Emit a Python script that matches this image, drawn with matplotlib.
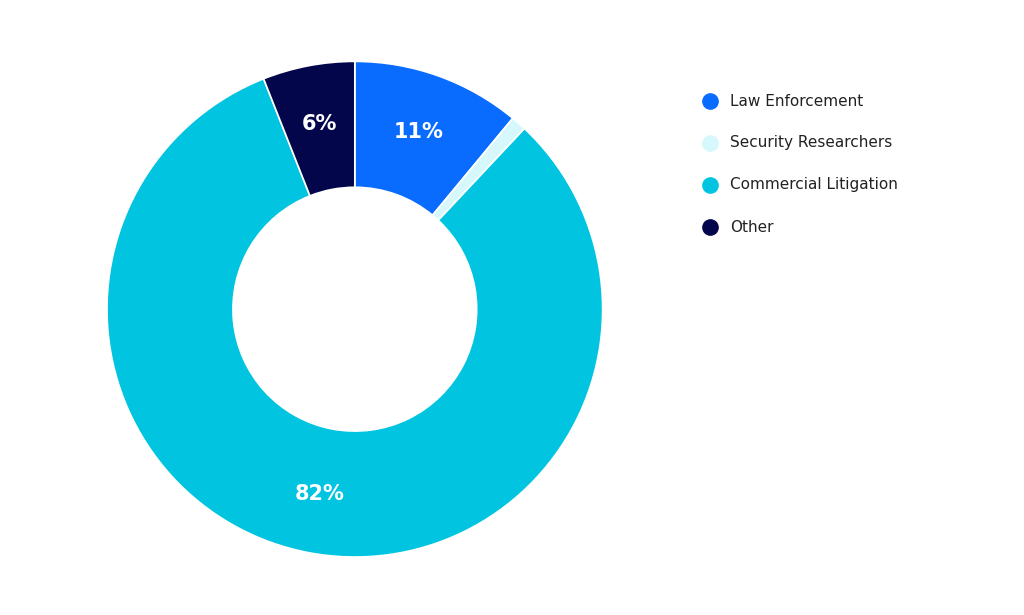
import matplotlib
matplotlib.use('Agg')
import matplotlib.pyplot as plt

# Данные
categories = ['Law Enforcement', 'Security Researchers', 'Commercial Litigation', 'Other']
shares = [11, 1, 82, 6]
colors = ['#0a6cff', '#d6f7fb', '#00c4e0', '#03064a']

fig = plt.figure(figsize=(10.24, 6.15), dpi=100)
ax = fig.add_axes([0.1045, 0.094, 0.484, 0.8065])

ax.pie(
    shares, colors=colors, startangle=90, counterclock=False,
    wedgeprops=dict(width=126 / 248, edgecolor='white', linewidth=1.2),
    autopct=lambda p: f'{p:.0f}%' if p >= 3 else '',
    pctdistance=0.76,
    textprops=dict(color='white', fontsize=15, fontweight='bold'),
)
ax.set_xlim(-1, 1)
ax.set_ylim(-1, 1)
ax.set_aspect('equal')

# Легенда вручную
for i, (name, c) in enumerate(zip(categories, colors)):
    y = 1 - (101 + 42 * i) / 615
    fig.lines.append(plt.Line2D([710 / 1024], [y], marker='o', markersize=11,
                                color=c, linestyle='none', transform=fig.transFigure))
    fig.text(730 / 1024, y, name, fontsize=11, color='#222222', va='center', ha='left')

plt.savefig('out.png', dpi=100)
plt.close()
